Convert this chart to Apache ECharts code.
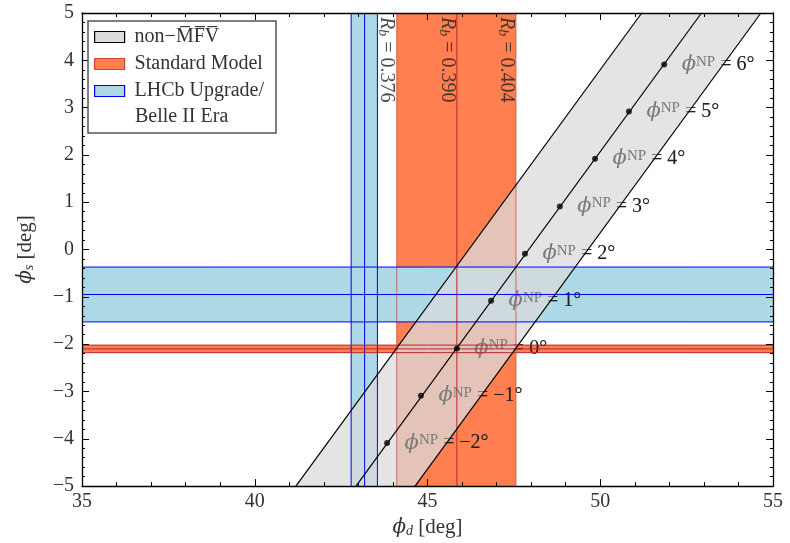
<!DOCTYPE html>
<html>
<head>
<meta charset="utf-8">
<script src="https://cdn.jsdelivr.net/npm/echarts@6/dist/echarts.min.js"></script>
<style>
html, body { margin: 0; padding: 0; background: #fff; }
#container { width: 790px; height: 543px; }
</style>
</head>
<body>
<div id="container"></div>
<script>
var dom = document.getElementById('container');
var myChart = echarts.init(dom);

var serif = "'Liberation Serif', 'DejaVu Serif', serif";
var greek = "'DejaVu Serif', serif";

// bands: [low edge, central value, high edge]
var lhcbPhiD = [42.79, 43.18, 43.55];
var smPhiD = [44.11, 45.85, 47.56];
var lhcbPhiS = [-0.37, -0.95, -1.53];
var smPhiS = [-2.02, -2.10, -2.18];

// non-MFV band: edges and central line, [phi_d, phi_s]
var mfvLow = [[41.19, -5], [51.20, 5]];
var mfvMid = [[42.93, -5], [52.93, 5]];
var mfvHigh = [[44.64, -5], [54.65, 5]];

// phi^NP points on the central line
var phiNP = [-2, -1, 0, 1, 2, 3, 4, 5, 6];
var npPhiD = [43.83, 44.81, 45.85, 46.84, 47.82, 48.83, 49.85, 50.83, 51.85];
var npPhiS = [-4.09, -3.09, -2.09, -1.08, -0.09, 0.91, 1.92, 2.92, 3.91];

// R_b labels
var rbValues = ['0.376', '0.390', '0.404'];
var rbPhiD = [43.80, 45.56, 47.27];

var colGray = 'rgba(219,219,219,0.75)';
var colOrange = '#ff7f50';
var colBlue = '#add8e6';

function minus(v) {
    return String(v).replace('-', '\u2212');
}

// filled band, dir 'x' = vertical stripe, 'y' = horizontal stripe
function bandFill(name, vals, dir, color, z) {
    return {
        name: name,
        type: 'custom',
        z: z,
        silent: true,
        data: [vals],
        renderItem: function (params, api) {
            var cs = params.coordSys;
            if (dir === 'x') {
                var x1 = api.coord([vals[0], 0])[0];
                var x2 = api.coord([vals[2], 0])[0];
                return { type: 'rect', shape: { x: Math.min(x1, x2), y: cs.y, width: Math.abs(x2 - x1), height: cs.height }, style: { fill: color } };
            }
            var y1 = api.coord([40, vals[0]])[1];
            var y2 = api.coord([40, vals[2]])[1];
            return { type: 'rect', shape: { x: cs.x, y: Math.min(y1, y2), width: cs.width, height: Math.abs(y2 - y1) }, style: { fill: color } };
        }
    };
}

// edge + central lines of a band
function bandLines(vals, dir, edgeColor, midColor, z) {
    return {
        type: 'custom',
        z: z,
        silent: true,
        data: [vals],
        renderItem: function (params, api) {
            var cs = params.coordSys;
            var children = vals.map(function (v, i) {
                var stroke = i === 1 ? midColor : edgeColor;
                if (dir === 'x') {
                    var x = api.coord([v, 0])[0];
                    return { type: 'line', shape: { x1: x, y1: cs.y, x2: x, y2: cs.y + cs.height }, style: { stroke: stroke, lineWidth: 1 } };
                }
                var y = api.coord([40, v])[1];
                return { type: 'line', shape: { x1: cs.x, y1: y, x2: cs.x + cs.width, y2: y }, style: { stroke: stroke, lineWidth: 1 } };
            });
            return { type: 'group', children: children };
        }
    };
}

function diag(data) {
    return {
        type: 'line',
        z: 6,
        silent: true,
        symbol: 'none',
        data: data,
        lineStyle: { color: '#000', width: 1.2 }
    };
}

// phi^NP labels; drawn under the grey band and again faintly on top
function npLabels(z, opacity) {
    return {
        type: 'scatter',
        z: z,
        silent: true,
        symbolSize: 1,
        itemStyle: { color: 'transparent' },
        data: npPoints,
        label: {
            show: true,
            position: 'right',
            distance: 17,
            opacity: opacity,
            formatter: function (p) {
                return '{phi|\u03d5}{sup|NP}{eq| = ' + minus(phiNP[p.dataIndex]) + '\u00b0}';
            },
            rich: {
                phi: { fontFamily: greek, fontStyle: 'italic', fontSize: 21, color: '#222' },
                sup: { fontFamily: serif, fontSize: 15, color: '#222', verticalAlign: 'top' },
                eq: { fontFamily: serif, fontSize: 20, color: '#222' }
            }
        }
    };
}

var npPoints = npPhiD.map(function (x, i) { return [x, npPhiS[i]]; });
var rbPoints = rbPhiD.map(function (x) { return [x, 5]; });

var axisCommonX = {
    type: 'value', min: 35, max: 55, interval: 5, z: 10,
    axisLine: { show: true, onZero: false, lineStyle: { color: '#000', width: 1.3 } },
    axisTick: { show: true, inside: true, length: 7, lineStyle: { color: '#000' } },
    minorTick: { show: true, splitNumber: 5, length: 4, lineStyle: { color: '#000' } },
    splitLine: { show: false }
};
var axisCommonY = {
    type: 'value', min: -5, max: 5, interval: 1, z: 10,
    axisLine: { show: true, onZero: false, lineStyle: { color: '#000', width: 1.3 } },
    axisTick: { show: true, inside: true, length: 7, lineStyle: { color: '#000' } },
    minorTick: { show: true, splitNumber: 5, length: 3, lineStyle: { color: '#000' } },
    splitLine: { show: false }
};
var tickLabel = { fontFamily: serif, fontSize: 20, color: '#333', formatter: minus };
var nameRich = {
    phi: { fontFamily: greek, fontStyle: 'italic', fontSize: 20, color: '#333' },
    sub: { fontFamily: serif, fontStyle: 'italic', fontSize: 14, color: '#333', verticalAlign: 'bottom' },
    t: { fontFamily: serif, fontSize: 21, color: '#333' }
};

option = {
    animation: false,
    grid: { left: 82, right: 17, top: 13, bottom: 53 },
    legend: {
        orient: 'vertical',
        left: 88,
        top: 21,
        z: 20,
        selectedMode: false,
        itemWidth: 30,
        itemHeight: 11,
        itemGap: 7,
        padding: [6, 12, 32, 6],
        backgroundColor: '#fff',
        borderColor: '#555',
        borderWidth: 1.5,
        borderRadius: 0,
        textStyle: { fontFamily: serif, fontSize: 20, color: '#333' },
        formatter: function (name) {
            if (name === 'nonMFV') return ' non\u2212M\u0305F\u0305V\u0305';
            return ' ' + name;
        },
        data: [
            { name: 'nonMFV', icon: 'rect', itemStyle: { color: '#dcdcdc', borderColor: '#000', borderWidth: 1.2 } },
            { name: 'Standard Model', icon: 'rect', itemStyle: { color: colOrange, borderColor: '#d0453a', borderWidth: 1.2 } },
            { name: 'LHCb Upgrade/', icon: 'rect', itemStyle: { color: colBlue, borderColor: '#0000ff', borderWidth: 1.2 } }
        ]
    },
    graphic: [{
        type: 'text',
        left: 135,
        top: 107,
        z: 21,
        style: { text: 'Belle II Era', font: '20px ' + serif, fill: '#333' }
    }],
    xAxis: [
        echarts.util.merge({
            position: 'bottom',
            name: '{phi|\u03d5}{sub|d}{t| [deg]}',
            nameLocation: 'middle',
            nameGap: 22,
            nameTextStyle: { rich: nameRich },
            axisLabel: echarts.util.merge({ margin: 6 }, tickLabel)
        }, axisCommonX),
        echarts.util.merge({ position: 'top', axisLabel: { show: false } }, axisCommonX)
    ],
    yAxis: [
        echarts.util.merge({
            position: 'left',
            name: '{phi|\u03d5}{sub|s}{t| [deg]}',
            nameLocation: 'middle',
            nameRotate: 90,
            nameGap: 46,
            nameTextStyle: { rich: nameRich },
            axisLabel: echarts.util.merge({ margin: 8 }, tickLabel)
        }, axisCommonY),
        echarts.util.merge({ position: 'right', axisLabel: { show: false } }, axisCommonY)
    ],
    series: [
        bandFill('LHCb Upgrade/', lhcbPhiD, 'x', colBlue, 1),
        bandFill('Standard Model', smPhiD, 'x', colOrange, 1),
        bandFill('LHCb Upgrade/', lhcbPhiS, 'y', colBlue, 2),
        bandFill('Standard Model', smPhiS, 'y', colOrange, 2),
        npLabels(3, 1),
        {
            name: 'nonMFV',
            type: 'custom',
            z: 4,
            silent: true,
            data: [0],
            renderItem: function (params, api) {
                var pts = [mfvLow[0], mfvLow[1], mfvHigh[1], mfvHigh[0]].map(function (d) { return api.coord(d); });
                return { type: 'polygon', shape: { points: pts }, style: { fill: colGray } };
            }
        },
        npLabels(4.5, 0.35),
        bandLines(lhcbPhiD, 'x', '#0000ff', '#0000ff', 5),
        bandLines(smPhiD, 'x', 'rgba(200,60,50,0.7)', '#b8282a', 5),
        bandLines(lhcbPhiS, 'y', '#0000ff', '#0000ff', 5),
        bandLines(smPhiS, 'y', '#b8282a', '#b8282a', 5),
        diag(mfvLow),
        diag(mfvMid),
        diag(mfvHigh),
        {
            type: 'scatter',
            z: 7,
            silent: true,
            symbolSize: 6,
            itemStyle: { color: '#000' },
            data: npPoints
        },
        {
            type: 'scatter',
            z: 8,
            silent: true,
            symbolSize: 1,
            itemStyle: { color: 'transparent' },
            data: rbPoints,
            label: {
                show: true,
                position: 'inside',
                rotate: -90,
                align: 'left',
                verticalAlign: 'middle',
                padding: [0, 0, 0, 4],
                formatter: function (p) {
                    return '{r|R}{sub|b}{t| = ' + rbValues[p.dataIndex] + '}';
                },
                rich: {
                    r: { fontFamily: serif, fontStyle: 'italic', fontSize: 20, color: '#222' },
                    sub: { fontFamily: serif, fontStyle: 'italic', fontSize: 14, color: '#222', verticalAlign: 'bottom' },
                    t: { fontFamily: serif, fontSize: 20, color: '#222' }
                }
            }
        }
    ]
};

if (option && typeof option === 'object') {
    myChart.setOption(option, true);
}
</script>
</body>
</html>
